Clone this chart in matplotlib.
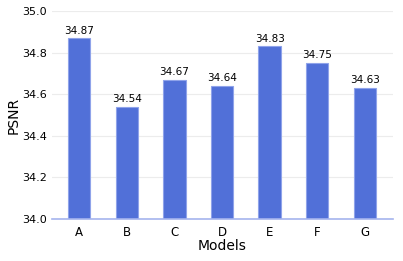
import matplotlib
matplotlib.use("Agg")
import matplotlib.pyplot as plt

models = ["A", "B", "C", "D", "E", "F", "G"]
psnr = [34.87, 34.54, 34.67, 34.64, 34.83, 34.75, 34.63]

fig = plt.figure(figsize=(4.03, 2.61), dpi=100)
ax = fig.add_axes([0.129, 0.161, 0.846, 0.797])

bars = ax.bar(range(len(models)), [v - 34.0 for v in psnr], bottom=34.0, width=0.47,
              color="#5170d8", edgecolor="#8fa3ea", linewidth=0.8, zorder=3)
for i, v in enumerate(psnr):
    ax.text(i, v + 0.012, f"{v:.2f}", ha="center", va="bottom", fontsize=7.5)

ax.set_ylim(34.0, 35.0)
ax.set_xlim(-0.57, 6.59)
ax.set_yticks([34.0, 34.2, 34.4, 34.6, 34.8, 35.0])
ax.set_xticks(range(len(models)))
ax.set_xticklabels(models)
ax.tick_params(axis="both", length=0, labelsize=8)
ax.tick_params(axis="x", pad=5, labelsize=8.5)
ax.grid(axis="y", color="#ececec", linewidth=0.8, zorder=0)
for s in ["top", "right", "left"]:
    ax.spines[s].set_visible(False)
ax.spines["bottom"].set_color("#a5b4ee")
ax.spines["bottom"].set_linewidth(1.2)
ax.spines["bottom"].set_zorder(4)

ax.set_xlabel("Models", fontsize=10, labelpad=0)
ax.set_ylabel("PSNR", fontsize=10, labelpad=1)

fig.savefig("out.png", dpi=100)
